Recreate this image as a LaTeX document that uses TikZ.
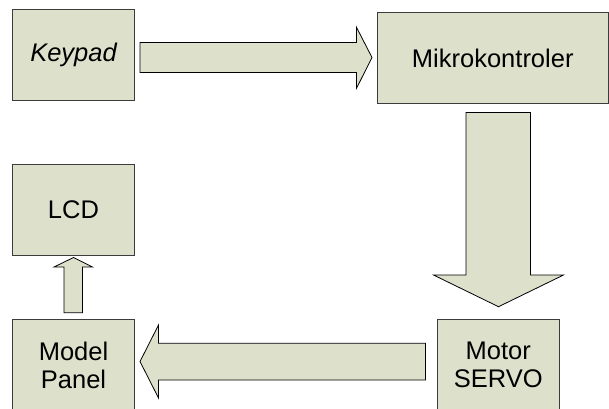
\documentclass[tikz,border=0pt]{standalone}
\usepackage{fontspec}
\setmainfont{Liberation Sans}
\definecolor{boxfill}{RGB}{221,225,203}
\definecolor{boxline}{RGB}{60,60,60}
\begin{document}
\begin{tikzpicture}[x=1pt,y=-1pt,
  blockbox/.style={draw=boxline,fill=boxfill,line width=0.9pt,minimum width=122pt,minimum height=91pt,inner sep=0pt,align=center,
    font=\fontsize{25.5}{28}\selectfont},
  blockarrow/.style={draw=black,fill=boxfill,line width=0.8pt,line join=miter}]
\useasboundingbox (0,0) rectangle (609,408);
\node[blockbox] (keypad) at (73.5,54.75) {\itshape Keypad};
\node[blockbox,minimum width=230.5pt] (mikro) at (492.75,58) {Mikrokontroler};
\node[blockbox] (lcd) at (73.5,210) {LCD};
\node[blockbox] (model) at (73.5,365) {Model\\Panel};
\node[blockbox,minimum width=121.5pt] (motor) at (498.25,365) {Motor\\SERVO};
% keypad -> mikrokontroler
\draw[blockarrow] (140,42.5) -- (356.5,42.5) -- (356.5,27.3) -- (372,57.5) -- (356.5,88.3) -- (356.5,72.5) -- (140,72.5) -- cycle;
% mikrokontroler -> motor
\draw[blockarrow] (466,112.5) -- (530.5,112.5) -- (530.5,275) -- (563.5,275) -- (498.5,306.7) -- (433.5,275) -- (466,275) -- cycle;
% motor -> model panel
\draw[blockarrow] (425.5,343.3) -- (158.5,343.3) -- (158.5,325) -- (140,361.5) -- (158.5,398) -- (158.5,380) -- (425.5,380) -- cycle;
% model panel -> lcd
\draw[blockarrow] (64,312.7) -- (64,267) -- (54,267) -- (73.5,257.5) -- (92.5,267) -- (82.5,267) -- (82.5,312.7) -- cycle;
\end{tikzpicture}
\end{document}
